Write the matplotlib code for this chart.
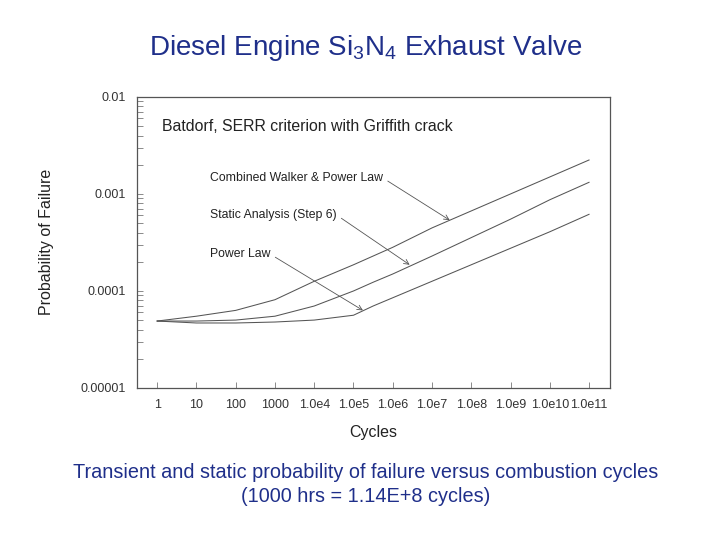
import matplotlib
matplotlib.use("Agg")
import matplotlib.pyplot as plt
import numpy as np

plt.rcParams['font.family'] = ['Liberation Sans', 'DejaVu Sans']
plt.rcParams['mathtext.fontset'] = 'custom'
plt.rcParams['mathtext.rm'] = 'Liberation Sans'

# cycles (log10) and probability of failure (log10)
cycles_log = [0, 1, 2, 3, 4, 5, 5.5, 6, 7, 8, 9, 10, 11]
combined_log = [-4.31, -4.26, -4.20, -4.09, -3.90, -3.73, -3.64, -3.55, -3.35, -3.175, -3.0, -2.825, -2.65]
static_log = [-4.31, -4.31, -4.30, -4.26, -4.155, -4.0, -3.91, -3.825, -3.64, -3.45, -3.26, -3.06, -2.88]
power_log = [-4.31, -4.33, -4.33, -4.32, -4.30, -4.25, -4.155, -4.07, -3.90, -3.73, -3.56, -3.39, -3.21]

xtick_labels = ['1', '10', '100', '1000', '1.0e4', '1.0e5', '1.0e6', '1.0e7',
                '1.0e8', '1.0e9', '1.0e10', '1.0e11']
ytick_labels = ['0.00001', '0.0001', '0.001', '0.01']

cycles = 10.0 ** np.array(cycles_log)
combined = 10.0 ** np.array(combined_log)
static = 10.0 ** np.array(static_log)
power = 10.0 ** np.array(power_log)

fig = plt.figure(figsize=(7.2, 5.4), dpi=100)
ax = fig.add_axes([0.190, 0.2815, 0.657, 0.539])

line_col = '#555555'
ax.plot(cycles, combined, color=line_col, lw=0.75)
ax.plot(cycles, static, color=line_col, lw=0.75)
ax.plot(cycles, power, color=line_col, lw=0.75)

ax.set_xscale('log')
ax.set_yscale('log')
ax.set_xlim(10 ** -0.52, 10 ** 11.53)
ax.set_ylim(1e-5, 1e-2)

ax.set_xticks(10.0 ** np.arange(0, 12))
ax.set_xticklabels(xtick_labels)
ax.xaxis.set_minor_locator(matplotlib.ticker.NullLocator())
ax.set_yticks([1e-5, 1e-4, 1e-3, 1e-2])
ax.set_yticklabels(ytick_labels)
ax.yaxis.set_minor_locator(matplotlib.ticker.LogLocator(base=10, subs=np.arange(2, 10)))
ax.yaxis.set_minor_formatter(matplotlib.ticker.NullFormatter())

ax.tick_params(axis='both', which='both', direction='in', length=4, width=0.6,
               colors='#777777', labelcolor='#333333', labelsize=9)
ax.tick_params(axis='x', pad=8)
ax.tick_params(axis='y', pad=8)
for s in ax.spines.values():
    s.set_color('#555555')
    s.set_linewidth(0.9)

ax.set_xlabel('Cycles', fontsize=11.5, color='#222222', labelpad=10)
fig.text(0.065, 0.552, 'Probability of Failure', rotation=90, fontsize=11.5,
         color='#222222', ha='center', va='center')

ax.text(0.053, 0.90, 'Batdorf, SERR criterion with Griffith crack',
        transform=ax.transAxes, fontsize=11.4, color='#222222', va='center')

arrow = dict(arrowstyle='->', color='#555555', lw=0.6, shrinkA=2, shrinkB=0,
             relpos=(1, 0.5))
ax.annotate('Combined Walker & Power Law', xy=(10 ** 7.45, 10 ** -3.27),
            xytext=(0.154, 0.722), textcoords='axes fraction', fontsize=8.8,
            color='#222222', va='center', arrowprops=arrow)
ax.annotate('Static Analysis (Step 6)', xy=(10 ** 6.43, 10 ** -3.73),
            xytext=(0.154, 0.595), textcoords='axes fraction', fontsize=8.8,
            color='#222222', va='center', arrowprops=arrow)
ax.annotate('Power Law', xy=(10 ** 5.24, 10 ** -4.20),
            xytext=(0.154, 0.460), textcoords='axes fraction', fontsize=8.8,
            color='#222222', va='center', arrowprops=arrow)

blue = '#1f2f8a'
fig.text(0.508, 1 - 48 / 540, 'Diesel Engine Si$_3$N$_4$ Exhaust Valve',
         fontsize=20, color=blue, ha='center', va='center')
fig.text(0.508, 1 - 472 / 540,
         'Transient and static probability of failure versus combustion cycles',
         fontsize=14.3, color=blue, ha='center', va='center')
fig.text(0.508, 1 - 496 / 540, '(1000 hrs = 1.14E+8 cycles)',
         fontsize=14.3, color=blue, ha='center', va='center')

fig.savefig('out.png', dpi=100, facecolor='white')
